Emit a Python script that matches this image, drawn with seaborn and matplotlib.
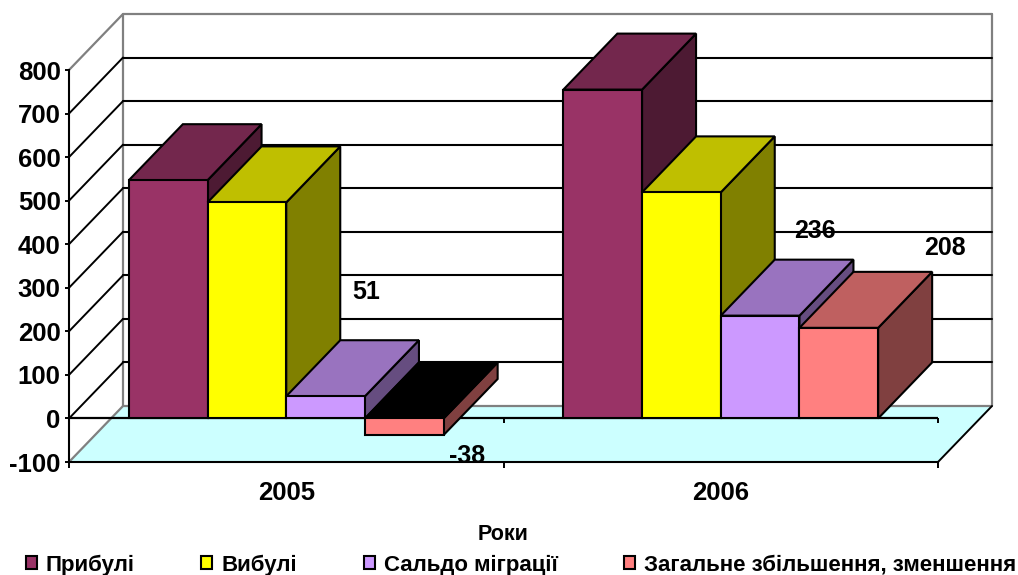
import pandas as pd
import seaborn as sns
import matplotlib.pyplot as plt

# data
years = ["2005", "2006"]
series = ["Прибулі", "Вибулі", "Сальдо міграції", "Загальне збільшення, зменшення"]
arrivals = [547, 755]
departures = [496, 519]
migration = [51, 236]
change = [-38, 208]
value_ticks = [-100, 0, 100, 200, 300, 400, 500, 600, 700, 800]
labelled_series = ["Сальдо міграції", "Загальне збільшення, зменшення"]

front_colors = ["#993366", "#FFFF00", "#CC99FF", "#FF8080"]
top_colors = ["#73274D", "#BFBF00", "#9973BF", "#BF6060"]
side_colors = ["#4D1A33", "#808000", "#664D80", "#804040"]

# 3d look, in pixels
depth_x_px = 54
depth_y_px = 56
# label offsets from top centre of the bar, (x, y) in pixels
label_offsets = {
    ("Сальдо міграції", "2005"): (41, 104),
    ("Сальдо міграції", "2006"): (55, 85),
    ("Загальне збільшення, зменшення", "2005"): (63, -21),
    ("Загальне збільшення, зменшення", "2006"): (106, 80),
}

df = pd.DataFrame({
    "year": years * 4,
    "series": [s for s in series for _ in years],
    "value": arrivals + departures + migration + change,
})

sns.set_style("white")
plt.rcParams["font.family"] = ["Liberation Sans", "DejaVu Sans"]
plt.rcParams["font.weight"] = "bold"
plt.rcParams["axes.unicode_minus"] = False
plt.rcParams["text.color"] = "black"
plt.rcParams["axes.labelcolor"] = "black"
plt.rcParams["xtick.labelcolor"] = "black"
plt.rcParams["ytick.labelcolor"] = "black"
plt.rcParams["legend.labelcolor"] = "black"

W, H = 1018, 575
fig = plt.figure(figsize=(W / 100, H / 100), dpi=100)
ax = fig.add_axes([69 / W, 1 - 462 / H, 869 / W, 392 / H])
ax.patch.set_alpha(0)

sns.barplot(data=df, x="year", y="value", hue="series", hue_order=series,
            palette=front_colors, width=0.7245, gap=0, saturation=1,
            edgecolor="black", linewidth=1.5, ax=ax)

ax.set_xlim(-0.5, 1.5)
ax.set_ylim(-100, 800)
dx = depth_x_px * 2 / 869
dy = depth_y_px * 900 / 392
x0, x1 = ax.get_xlim()
y0, y1 = ax.get_ylim()

# walls and floor
grey = "#808080"
ax.fill([x0, x1, x1 + dx, x0 + dx], [y0, y0, y0 + dy, y0 + dy], color="#CCFFFF", zorder=0.5, clip_on=False, lw=0)
ax.plot([x0, x0 + dx, x0 + dx], [y1, y1 + dy, y0 + dy], color=grey, lw=1.6, zorder=0.8, clip_on=False)
ax.plot([x0, x0 + dx, x1 + dx, x1 + dx], [y0, y0 + dy, y0 + dy, y1 + dy], color=grey, lw=1.6, zorder=0.8, clip_on=False)
ax.plot([x0 + dx, x1 + dx], [y1 + dy, y1 + dy], color=grey, lw=1.6, zorder=0.8, clip_on=False)
ax.plot([x1, x1 + dx], [y0, y0 + dy], color="black", lw=1.4, zorder=0.9, clip_on=False)

# grid on the back wall and the left wall
for t in value_ticks[1:-1]:
    ax.plot([x0 + dx, x1 + dx], [t + dy, t + dy], color="black", lw=1.5, zorder=1, clip_on=False)
    ax.plot([x0, x0 + dx], [t, t + dy], color="black", lw=1.4, zorder=1, clip_on=False)

# zero line with its ticks
ax.plot([x0, x1], [0, 0], color="black", lw=1.6, zorder=1.5)
ax.vlines([0.5, 1.5], -10, 0, color="black", lw=1.4, zorder=1.5, clip_on=False)

# side and top of every bar, left to right so nearer faces overlap
bars = []
for name, top, side, container in zip(series, top_colors, side_colors, ax.containers):
    for year, bar in zip(years, container):
        bars.append((bar, name, year, top, side))
bars.sort(key=lambda b: b[0].get_x())

for i, (bar, name, year, top, side) in enumerate(bars):
    z = 3 + i
    left = bar.get_x()
    right = left + bar.get_width()
    value = bar.get_height() + bar.get_y()
    low = min(0, value)
    high = max(0, value)
    top_face = "black" if value < 0 else top
    ax.fill([right, right + dx, right + dx, right], [low, low + dy, high + dy, high],
            facecolor=side, edgecolor="black", lw=1.5, zorder=z, clip_on=False)
    ax.fill([left, right, right + dx, left + dx], [high, high, high + dy, high + dy],
            facecolor=top_face, edgecolor="black", lw=1.5, zorder=z, clip_on=False)
    bar.set_zorder(z + 0.5)
    if (name, year) in label_offsets and name in labelled_series:
        ax.annotate(str(int(value)), xy=(left + bar.get_width() / 2, value),
                    xytext=label_offsets[(name, year)], textcoords="offset pixels",
                    ha="center", va="center", fontsize=18, fontweight="bold", zorder=50,
                    annotation_clip=False)

# axes
ax.set_yticks(value_ticks)
ax.set_yticklabels([str(t) for t in value_ticks])
ax.set_xticks([0, 1])
ax.set_xticks([-0.5, 0.5, 1.5], minor=True)
ax.tick_params(axis="y", left=True, length=3, width=1.4, labelsize=18.5, pad=3, color="black")
ax.tick_params(axis="x", which="major", bottom=False, labelsize=18.5, pad=10)
ax.tick_params(axis="x", which="minor", bottom=True, length=4, width=1.4, color="black")
ax.set_xlabel("Роки", fontsize=15.5, fontweight="bold", labelpad=13.5)
ax.set_ylabel("")
sns.despine(ax=ax, top=True, right=True)
for spine in ["left", "bottom"]:
    ax.spines[spine].set_color("black")
    ax.spines[spine].set_linewidth(1.5)
    ax.spines[spine].set_zorder(2)

sns.move_legend(ax, "lower center", bbox_to_anchor=(521 / W, -0.001), bbox_transform=fig.transFigure,
                ncol=4, title=None, frameon=False, fontsize=16,
                handlelength=0.5, handleheight=0.5, handletextpad=0.4,
                columnspacing=3.0, borderpad=0, borderaxespad=0)

fig.savefig("out.png", dpi=100)
